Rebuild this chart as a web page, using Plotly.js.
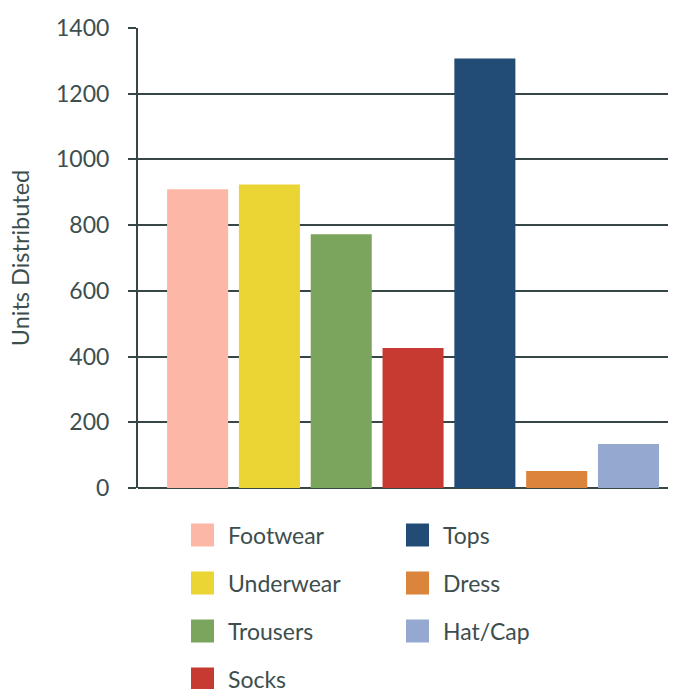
<!DOCTYPE html>
<html>
<head>
<meta charset="utf-8">
<script src="https://cdn.plot.ly/plotly-3.0.1.min.js"></script>
<style>html,body{margin:0;padding:0;background:#fff;}#chart{width:677px;height:689px;}</style>
</head>
<body>
<div id="chart"></div>
<script>
const categories = ['Footwear', 'Underwear', 'Trousers', 'Socks', 'Tops', 'Dress', 'Hat/Cap'];
const unitsDistributed = [909, 924, 772, 426, 1307, 52, 134];
const barColors = ['#fdb7a7', '#ead535', '#7ba55c', '#c63a31', '#224c75', '#db843b', '#95a8cf'];
const yTickValues = [0, 200, 400, 600, 800, 1000, 1200, 1400];
const yAxisTitle = 'Units Distributed';

const W = 677, H = 689;
const M = {l: 138, r: 9, t: 28, b: 201};
const plotW = W - M.l - M.r, plotH = H - M.t - M.b;
const textColor = '#3d4e4e';
const lineColor = '#364646';
const fontFamily = 'Lato, "Open Sans", sans-serif';

const toPaperX = px => (px - M.l) / plotW;
const toPaperY = py => (H - M.b - py) / plotH;

const shapes = [];
const annotations = [];
categories.forEach((name, i) => {
  const col = i < 4 ? 0 : 1;
  const row = i < 4 ? i : i - 4;
  const swX = col === 0 ? 191 : 406;
  const cy = 535 + row * 48;
  shapes.push({
    type: 'rect', xref: 'paper', yref: 'paper',
    x0: toPaperX(swX), x1: toPaperX(swX + 23),
    y0: toPaperY(cy + 11.5), y1: toPaperY(cy - 11.5),
    fillcolor: barColors[i], line: {width: 0}
  });
  annotations.push({
    xref: 'paper', yref: 'paper', x: toPaperX(swX + 36), y: toPaperY(cy - 0.5),
    xanchor: 'left', yanchor: 'middle', showarrow: false, borderpad: 0,
    text: name, font: {family: fontFamily, size: 23, color: textColor}
  });
});

const data = [{
  type: 'bar',
  x: categories,
  y: unitsDistributed,
  marker: {color: barColors, line: {width: 0}},
  hoverinfo: 'x+y',
  showlegend: false
}];

const layout = {
  width: W, height: H,
  margin: M,
  paper_bgcolor: '#ffffff', plot_bgcolor: '#ffffff',
  font: {family: fontFamily, color: textColor},
  bargap: 0.15,
  showlegend: false,
  xaxis: {
    type: 'category', range: [-0.83, 6.55],
    showticklabels: false, showgrid: false, zeroline: false, showline: false, ticks: ''
  },
  yaxis: {
    range: [0, 1400], tickvals: yTickValues,
    tickfont: {size: 23, color: textColor},
    ticks: 'outside', ticklen: 8, tickwidth: 2, tickcolor: lineColor,
    ticklabelstandoff: 14,
    showgrid: true, gridcolor: lineColor, gridwidth: 2,
    zeroline: true, zerolinecolor: lineColor, zerolinewidth: 2,
    showline: true, linecolor: lineColor, linewidth: 2,
    title: {text: yAxisTitle, font: {size: 23.5, color: textColor}, standoff: 20}
  },
  shapes: shapes,
  annotations: annotations
};

Plotly.newPlot('chart', data, layout, {displayModeBar: false, staticPlot: true});
</script>
</body>
</html>
